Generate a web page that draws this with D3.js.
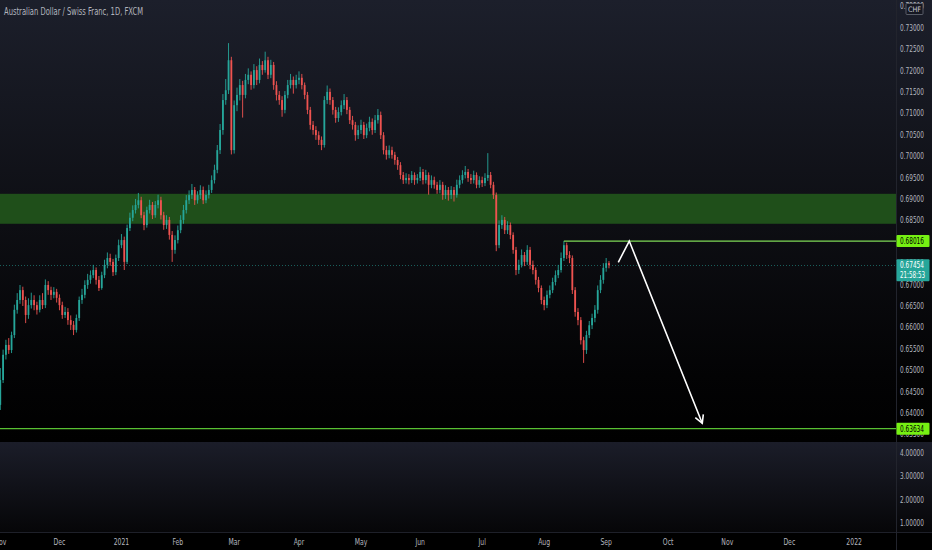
<!DOCTYPE html>
<html>
<head>
<meta charset="utf-8">
<script src="https://cdn.jsdelivr.net/npm/d3@7"></script>
<style>
  html, body { margin: 0; padding: 0; background: #000; }
  svg { display: block; font-family: "Liberation Sans Narrow", "DejaVu Sans Condensed", Roboto, sans-serif; }
</style>
</head>
<body>
<script>
// AUD/CHF daily candles, first bar = Mon 2 Nov 2020, last bar = Thu 2 Sep 2021
const title = "Australian Dollar / Swiss Franc, 1D, FXCM"
const firstDay = "2020-11-02"
const holidays = ["2020-12-25", "2021-01-01"]   // no FXCM bar on these days

const opens = [
  0.6419, 0.6477, 0.6536, 0.6559, 0.6547, 0.6582, 0.6641, 0.6664, 0.6687, 0.6664,
  0.6629, 0.6652, 0.6664, 0.6652, 0.6641, 0.6664, 0.6652, 0.6699, 0.6687, 0.6676,
  0.6683, 0.6669, 0.6652, 0.6629, 0.6636, 0.6617, 0.6606, 0.6594, 0.6622, 0.6664,
  0.6676, 0.6699, 0.6711, 0.6722, 0.6734, 0.6711, 0.6692, 0.6722, 0.6746, 0.6762,
  0.6753, 0.6729, 0.6762, 0.6792, 0.6804, 0.6753, 0.6832, 0.6856, 0.6874, 0.6886,
  0.6897, 0.6862, 0.6839, 0.6874, 0.6886, 0.6862, 0.6886, 0.6897, 0.6862, 0.6839,
  0.6851, 0.6816, 0.6781, 0.6804, 0.6827, 0.6851, 0.6874, 0.6897, 0.6909, 0.6921,
  0.6897, 0.6909, 0.6921, 0.6897, 0.6909, 0.6921, 0.6944, 0.6968, 0.7014, 0.7061,
  0.7131, 0.7154, 0.7224, 0.7014, 0.7119, 0.7143, 0.7166, 0.7143, 0.7178, 0.7190,
  0.7166, 0.7201, 0.7178, 0.7213, 0.7201, 0.7224, 0.7190, 0.7213, 0.7166, 0.7143,
  0.7131, 0.7108, 0.7143, 0.7166, 0.7178, 0.7166, 0.7178, 0.7183, 0.7166,
  0.7143, 0.7108, 0.7073, 0.7061, 0.7049, 0.7038, 0.7026, 0.7131, 0.7150, 0.7131,
  0.7108, 0.7089, 0.7103, 0.7119, 0.7131, 0.7108, 0.7084, 0.7073, 0.7049, 0.7061,
  0.7073, 0.7049, 0.7066, 0.7080, 0.7061, 0.7084, 0.7096, 0.7049, 0.7014, 0.7003,
  0.7014, 0.7003, 0.6991, 0.6979, 0.6956, 0.6944, 0.6949, 0.6944, 0.6956, 0.6944,
  0.6949, 0.6963, 0.6944, 0.6956, 0.6933, 0.6944, 0.6933, 0.6921, 0.6933,
  0.6909, 0.6921, 0.6909, 0.6921, 0.6909, 0.6933, 0.6944, 0.6956, 0.6963, 0.6949,
  0.6944, 0.6956, 0.6933, 0.6944, 0.6937, 0.6949, 0.6956, 0.6933, 0.6909, 0.6792,
  0.6839, 0.6851, 0.6827, 0.6839, 0.6816, 0.6781, 0.6734, 0.6746, 0.6769, 0.6753,
  0.6781, 0.6746, 0.6734, 0.6711, 0.6692, 0.6664, 0.6652, 0.6676, 0.6687, 0.6706,
  0.6722, 0.6734, 0.6762, 0.6792, 0.6769, 0.6762, 0.6687, 0.6636, 0.6617, 0.6570,
  0.6547, 0.6582, 0.6605, 0.6622, 0.6641, 0.6687, 0.6711, 0.6739, 0.6750
]
const highs = [
  0.6505, 0.6548, 0.6571, 0.6575, 0.6590, 0.6653, 0.6680, 0.6699, 0.6695, 0.6672,
  0.6668, 0.6681, 0.6675, 0.6660, 0.6675, 0.6680, 0.6712, 0.6708, 0.6695, 0.6694,
  0.6690, 0.6677, 0.6660, 0.6648, 0.6645, 0.6628, 0.6615, 0.6630, 0.6672, 0.6690,
  0.6710, 0.6725, 0.6733, 0.6746, 0.6740, 0.6720, 0.6730, 0.6758, 0.6775, 0.6772,
  0.6760, 0.6770, 0.6805, 0.6818, 0.6812, 0.6840, 0.6868, 0.6885, 0.6900, 0.6914,
  0.6905, 0.6870, 0.6882, 0.6898, 0.6893, 0.6895, 0.6910, 0.6905, 0.6870, 0.6862,
  0.6858, 0.6825, 0.6815, 0.6838, 0.6862, 0.6886, 0.6909, 0.6920, 0.6935, 0.6928,
  0.6918, 0.6932, 0.6929, 0.6920, 0.6933, 0.6955, 0.6980, 0.7026, 0.7075, 0.7145,
  0.7180, 0.7264, 0.7232, 0.7130, 0.7160, 0.7180, 0.7176, 0.7192, 0.7205, 0.7198,
  0.7215, 0.7210, 0.7228, 0.7222, 0.7244, 0.7232, 0.7225, 0.7220, 0.7175, 0.7152,
  0.7140, 0.7152, 0.7178, 0.7192, 0.7186, 0.7190, 0.7198, 0.7192, 0.7172,
  0.7150, 0.7115, 0.7082, 0.7070, 0.7058, 0.7046, 0.7140, 0.7165, 0.7158, 0.7138,
  0.7115, 0.7114, 0.7130, 0.7145, 0.7138, 0.7115, 0.7094, 0.7080, 0.7072, 0.7085,
  0.7080, 0.7076, 0.7092, 0.7088, 0.7096, 0.7110, 0.7104, 0.7056, 0.7024, 0.7025,
  0.7022, 0.7010, 0.6998, 0.6986, 0.6963, 0.6960, 0.6958, 0.6965, 0.6962, 0.6958,
  0.6975, 0.6970, 0.6968, 0.6962, 0.6955, 0.6952, 0.6940, 0.6944, 0.6940,
  0.6932, 0.6928, 0.6930, 0.6928, 0.6945, 0.6955, 0.6967, 0.6977, 0.6970, 0.6958,
  0.6966, 0.6962, 0.6953, 0.6952, 0.6960, 0.7007, 0.6963, 0.6940, 0.6915, 0.6850,
  0.6862, 0.6858, 0.6848, 0.6845, 0.6822, 0.6788, 0.6758, 0.6782, 0.6776, 0.6792,
  0.6788, 0.6756, 0.6740, 0.6718, 0.6698, 0.6672, 0.6686, 0.6698, 0.6716, 0.6733,
  0.6746, 0.6775, 0.68016, 0.6798, 0.6778, 0.6768, 0.6694, 0.6645, 0.6624, 0.6578,
  0.6592, 0.6615, 0.6632, 0.6652, 0.6698, 0.6722, 0.6750, 0.6762, 0.6755
]
const lows = [
  0.6407, 0.6470, 0.6525, 0.6538, 0.6540, 0.6575, 0.6632, 0.6655, 0.6650, 0.6610,
  0.6620, 0.6644, 0.6640, 0.6630, 0.6635, 0.6643, 0.6645, 0.6676, 0.6664, 0.6668,
  0.6658, 0.6640, 0.6620, 0.6622, 0.6606, 0.6594, 0.6582, 0.6588, 0.6615, 0.6655,
  0.6668, 0.6690, 0.6702, 0.6715, 0.6700, 0.6685, 0.6688, 0.6715, 0.6738, 0.6744,
  0.6720, 0.6722, 0.6755, 0.6785, 0.6734, 0.6748, 0.6825, 0.6848, 0.6866, 0.6878,
  0.6855, 0.6827, 0.6833, 0.6866, 0.6853, 0.6856, 0.6878, 0.6852, 0.6828, 0.6830,
  0.6805, 0.6753, 0.6772, 0.6796, 0.6820, 0.6842, 0.6866, 0.6888, 0.6900, 0.6886,
  0.6889, 0.6900, 0.6888, 0.6890, 0.6901, 0.6914, 0.6936, 0.6960, 0.7005, 0.7050,
  0.7120, 0.7145, 0.7004, 0.7006, 0.7105, 0.7130, 0.7090, 0.7135, 0.7168, 0.7155,
  0.7158, 0.7166, 0.7170, 0.7190, 0.7195, 0.7180, 0.7182, 0.7155, 0.7130, 0.7120,
  0.7092, 0.7100, 0.7135, 0.7158, 0.7146, 0.7158, 0.7168, 0.7156, 0.7133,
  0.7098, 0.7062, 0.7050, 0.7038, 0.7026, 0.7014, 0.7020, 0.7122, 0.7120, 0.7097,
  0.7078, 0.7080, 0.7095, 0.7110, 0.7098, 0.7075, 0.7062, 0.7036, 0.7040, 0.7052,
  0.7040, 0.7042, 0.7058, 0.7050, 0.7054, 0.7076, 0.7040, 0.7004, 0.6992, 0.6995,
  0.6994, 0.6980, 0.6968, 0.6946, 0.6935, 0.6936, 0.6934, 0.6937, 0.6933, 0.6936,
  0.6942, 0.6934, 0.6936, 0.6910, 0.6925, 0.6924, 0.6912, 0.6913, 0.6898,
  0.6900, 0.6896, 0.6900, 0.6894, 0.6903, 0.6925, 0.6936, 0.6948, 0.6940, 0.6935,
  0.6936, 0.6925, 0.6926, 0.6928, 0.6930, 0.6942, 0.6925, 0.6900, 0.6778, 0.6785,
  0.6830, 0.6818, 0.6818, 0.6806, 0.6772, 0.6722, 0.6725, 0.6740, 0.6743, 0.6746,
  0.6736, 0.6724, 0.6700, 0.6682, 0.6654, 0.6640, 0.6645, 0.6668, 0.6680, 0.6698,
  0.6715, 0.6728, 0.6755, 0.6760, 0.6750, 0.6678, 0.6625, 0.6605, 0.6560, 0.6517,
  0.6538, 0.6575, 0.6596, 0.6612, 0.6632, 0.6680, 0.6702, 0.6730, 0.6738
]
const closes = [
  0.6477, 0.6536, 0.6559, 0.6547, 0.6582, 0.6641, 0.6664, 0.6687, 0.6664, 0.6629,
  0.6652, 0.6664, 0.6652, 0.6641, 0.6664, 0.6652, 0.6699, 0.6687, 0.6676, 0.6683,
  0.6669, 0.6652, 0.6629, 0.6636, 0.6617, 0.6606, 0.6594, 0.6622, 0.6664, 0.6676,
  0.6699, 0.6711, 0.6722, 0.6734, 0.6711, 0.6692, 0.6722, 0.6746, 0.6762, 0.6753,
  0.6729, 0.6762, 0.6792, 0.6804, 0.6753, 0.6832, 0.6856, 0.6874, 0.6886, 0.6897,
  0.6862, 0.6839, 0.6874, 0.6886, 0.6862, 0.6886, 0.6897, 0.6862, 0.6839, 0.6851,
  0.6816, 0.6781, 0.6804, 0.6827, 0.6851, 0.6874, 0.6897, 0.6909, 0.6921, 0.6897,
  0.6909, 0.6921, 0.6897, 0.6909, 0.6921, 0.6944, 0.6968, 0.7014, 0.7061, 0.7131,
  0.7154, 0.7224, 0.7014, 0.7119, 0.7143, 0.7166, 0.7143, 0.7178, 0.7190, 0.7166,
  0.7201, 0.7178, 0.7213, 0.7201, 0.7224, 0.7190, 0.7213, 0.7166, 0.7143, 0.7131,
  0.7108, 0.7143, 0.7166, 0.7178, 0.7166, 0.7178, 0.7183, 0.7166, 0.7143,
  0.7108, 0.7073, 0.7061, 0.7049, 0.7038, 0.7026, 0.7131, 0.7150, 0.7131, 0.7108,
  0.7089, 0.7103, 0.7119, 0.7131, 0.7108, 0.7084, 0.7073, 0.7049, 0.7061, 0.7073,
  0.7049, 0.7066, 0.7080, 0.7061, 0.7084, 0.7096, 0.7049, 0.7014, 0.7003, 0.7014,
  0.7003, 0.6991, 0.6979, 0.6956, 0.6944, 0.6949, 0.6944, 0.6956, 0.6944, 0.6949,
  0.6963, 0.6944, 0.6956, 0.6933, 0.6944, 0.6933, 0.6921, 0.6933, 0.6909,
  0.6921, 0.6909, 0.6921, 0.6909, 0.6933, 0.6944, 0.6956, 0.6963, 0.6949, 0.6944,
  0.6956, 0.6933, 0.6944, 0.6937, 0.6949, 0.6956, 0.6933, 0.6909, 0.6792, 0.6839,
  0.6851, 0.6827, 0.6839, 0.6816, 0.6781, 0.6734, 0.6746, 0.6769, 0.6753, 0.6781,
  0.6746, 0.6734, 0.6711, 0.6692, 0.6664, 0.6652, 0.6676, 0.6687, 0.6706, 0.6722,
  0.6734, 0.6762, 0.6792, 0.6769, 0.6762, 0.6687, 0.6636, 0.6617, 0.6570, 0.6547,
  0.6582, 0.6605, 0.6622, 0.6641, 0.6687, 0.6711, 0.6739, 0.6750, 0.67454
]

// drawings (x in bar index, y in price)
const zone = [0.6842, 0.6912]
const resistance = 0.68016
const resistanceFrom = 200
const target = 0.63634
const lastPrice = 0.67454
const countdown = "21:58:53"
const arrowPoints = [[219.3, 0.6752], [223.2, 0.68016], [249.1, 0.6376]]

// axes
const priceTicks = [0.635, 0.640, 0.645, 0.650, 0.655, 0.660, 0.665, 0.670, 0.675, 0.680,
  0.685, 0.690, 0.695, 0.700, 0.705, 0.710, 0.715, 0.720, 0.725, 0.730, 0.735]
const subTicks = [1, 2, 3, 4]
const monthLabels = ["Nov", "Dec", "2021", "Feb", "Mar", "Apr", "May", "Jun", "Jul", "Aug", "Sep", "Oct", "Nov", "Dec", "2022"]
const monthStarts = ["2020-11-02", "2020-12-01", "2021-01-04", "2021-02-01", "2021-03-01", "2021-04-01", "2021-05-03",
  "2021-06-01", "2021-07-01", "2021-08-02", "2021-09-01", "2021-10-01", "2021-11-01", "2021-12-01", "2022-01-03"]

const W = 932, H = 550
const plotRight = 896
const mainBottom = 441, subTop = 442, subBottom = 532

// trading days -> bar index
const fmt = d3.utcFormat("%Y-%m-%d")
let dayIndex = new Map()
let d = new Date(firstDay + "T00:00:00Z"), k = 0
while (d < new Date("2022-02-01T00:00:00Z")) {
  const wd = d.getUTCDay()
  if (wd !== 0 && wd !== 6 && !holidays.includes(fmt(d))) { dayIndex.set(fmt(d), k); k++ }
  d = d3.utcDay.offset(d, 1)
}

const x = d3.scaleLinear().domain([-0.1, 317.85]).range([0, plotRight])
const y = d3.scaleLinear().domain([0.63346, 0.73647]).range([mainBottom, 0])
const ySub = d3.scaleLinear().domain([0.614, 4.47]).range([subBottom, subTop])

const svg = d3.select("body").append("svg")
  .attr("width", W).attr("height", H)

const defs = svg.append("defs")
const g1 = defs.append("linearGradient").attr("id", "bgMain").attr("x1", 0).attr("y1", 0).attr("x2", 0).attr("y2", 1)
g1.append("stop").attr("offset", "0%").attr("stop-color", "#1c1f2b")
g1.append("stop").attr("offset", "45%").attr("stop-color", "#0f1016")
g1.append("stop").attr("offset", "85%").attr("stop-color", "#030304")
g1.append("stop").attr("offset", "100%").attr("stop-color", "#000")
const g2 = defs.append("linearGradient").attr("id", "bgSub").attr("x1", 0).attr("y1", 0).attr("x2", 0).attr("y2", 1)
g2.append("stop").attr("offset", "0%").attr("stop-color", "#1b1d29")
g2.append("stop").attr("offset", "100%").attr("stop-color", "#060608")
defs.append("clipPath").attr("id", "clipMain")
  .append("rect").attr("x", 0).attr("y", 0).attr("width", plotRight).attr("height", mainBottom)

// backgrounds
svg.append("rect").attr("width", W).attr("height", H).attr("fill", "#000")
svg.append("rect").attr("width", W).attr("height", mainBottom).attr("fill", "url(#bgMain)")
svg.append("rect").attr("y", subTop).attr("width", W).attr("height", subBottom - subTop).attr("fill", "url(#bgSub)")
svg.append("line").attr("x1", 0).attr("x2", W).attr("y1", subBottom + 0.5).attr("y2", subBottom + 0.5)
  .attr("stroke", "#1e2029")
svg.append("line").attr("x1", plotRight + 0.5).attr("x2", plotRight + 0.5).attr("y1", 0).attr("y2", H)
  .attr("stroke", "#22242d")

const plot = svg.append("g").attr("clip-path", "url(#clipMain)")

// zone
plot.append("rect")
  .attr("x", 0).attr("width", plotRight)
  .attr("y", y(zone[1])).attr("height", y(zone[0]) - y(zone[1]))
  .attr("fill", "#1f4f1a")

// last price dotted line
plot.append("line")
  .attr("x1", 0).attr("x2", plotRight)
  .attr("y1", Math.round(y(lastPrice)) + 0.5).attr("y2", Math.round(y(lastPrice)) + 0.5)
  .attr("stroke", "#26a69a").attr("stroke-opacity", 0.55).attr("stroke-dasharray", "1,2")

// candles
const bars = closes.map((c, i) => ({ i, o: opens[i], h: highs[i], l: lows[i], c }))
const bw = 1.8
const candle = plot.append("g").selectAll("g").data(bars).join("g")
candle.append("line")
  .attr("x1", b => x(b.i)).attr("x2", b => x(b.i))
  .attr("y1", b => y(b.h)).attr("y2", b => y(b.l))
  .attr("stroke", b => b.c >= b.o ? "#26a69a" : "#ef5350").attr("stroke-width", 0.9)
candle.append("rect")
  .attr("x", b => x(b.i) - bw / 2).attr("width", bw)
  .attr("y", b => y(Math.max(b.o, b.c)))
  .attr("height", b => Math.max(1, Math.abs(y(b.o) - y(b.c))))
  .attr("fill", b => b.c >= b.o ? "#26a69a" : "#ef5350")

// horizontal levels
plot.append("line")
  .attr("x1", x(resistanceFrom)).attr("x2", plotRight)
  .attr("y1", y(resistance)).attr("y2", y(resistance))
  .attr("stroke", "#7ed957").attr("stroke-width", 1.2)
plot.append("line")
  .attr("x1", 0).attr("x2", plotRight)
  .attr("y1", y(target)).attr("y2", y(target))
  .attr("stroke", "#58c032").attr("stroke-width", 1.2)

// projection arrow
const pts = arrowPoints.map(p => [x(p[0]), y(p[1])])
plot.append("path")
  .attr("d", d3.line()(pts))
  .attr("fill", "none").attr("stroke", "#fff").attr("stroke-width", 1.6)
const [ax, ay] = pts[pts.length - 1], [bx, by] = pts[pts.length - 2]
const ang = Math.atan2(ay - by, ax - bx)
const head = [-0.5, 0.5].map(a => [ax - 9 * Math.cos(ang + a), ay - 9 * Math.sin(ang + a)])
plot.append("path")
  .attr("d", d3.line()([head[0], [ax, ay], head[1]]))
  .attr("fill", "none").attr("stroke", "#fff").attr("stroke-width", 1.6)

// title
svg.append("text")
  .attr("x", 4).attr("y", 15)
  .attr("fill", "#b2b5be").attr("font-size", 10.5)
  .attr("textLength", 139).attr("lengthAdjust", "spacingAndGlyphs")
  .text(title)

// price axis
const axisG = svg.append("g")
axisG.selectAll("text.p").data(priceTicks).join("text")
  .attr("class", "p")
  .attr("x", plotRight + 4).attr("y", p => y(p) + 3)
  .attr("fill", "#b2b5be").attr("font-size", 8.5)
  .attr("textLength", 24).attr("lengthAdjust", "spacingAndGlyphs")
  .text(p => p.toFixed(5))
axisG.selectAll("text.s").data(subTicks).join("text")
  .attr("class", "s")
  .attr("x", plotRight + 4).attr("y", v => ySub(v) + 3)
  .attr("fill", "#b2b5be").attr("font-size", 8.5)
  .attr("textLength", 24).attr("lengthAdjust", "spacingAndGlyphs")
  .text(v => v.toFixed(5))

// currency badge
axisG.append("rect").attr("x", 906).attr("y", 3.5).attr("width", 17).attr("height", 11)
  .attr("fill", "#161822").attr("stroke", "#6a6d78").attr("stroke-width", 0.8).attr("rx", 1)
axisG.append("text").attr("x", 908).attr("y", 12)
  .attr("fill", "#c8cad2").attr("font-size", 7.5)
  .attr("textLength", 13).attr("lengthAdjust", "spacingAndGlyphs")
  .text("CHF")

// level labels on the axis
function levelLabel(price, fill, color, lines) {
  const yy = y(price)
  const h = lines.length > 1 ? 22 : 12
  axisG.append("rect")
    .attr("x", plotRight + 0.5).attr("y", yy - 6).attr("width", 33).attr("height", h)
    .attr("fill", fill).attr("rx", 1)
  lines.forEach((t, j) => {
    axisG.append("text")
      .attr("x", plotRight + 4).attr("y", yy + 3 + j * 9.5)
      .attr("fill", color).attr("font-size", 8.5)
      .attr("textLength", t.length > 7 ? 25 : 24).attr("lengthAdjust", "spacingAndGlyphs")
      .text(t)
  })
}
levelLabel(resistance, "#76f013", "#000", [resistance.toFixed(5)])
levelLabel(lastPrice, "#26a69a", "#fff", [lastPrice.toFixed(5), countdown])
levelLabel(target, "#76f013", "#000", [target.toFixed(5)])

// time axis, glyphs narrowed to look like the condensed UI font
svg.append("g").selectAll("text").data(monthLabels).join("text")
  .attr("x", (t, j) => x(dayIndex.get(monthStarts[j])))
  .attr("y", 545)
  .attr("text-anchor", "middle")
  .attr("fill", "#b2b5be").attr("font-size", 8.5)
  .text(t => t)
  .each(function () {
    const w = this.getComputedTextLength()
    d3.select(this).attr("textLength", w * 0.8).attr("lengthAdjust", "spacingAndGlyphs")
  })
</script>
</body>
</html>
